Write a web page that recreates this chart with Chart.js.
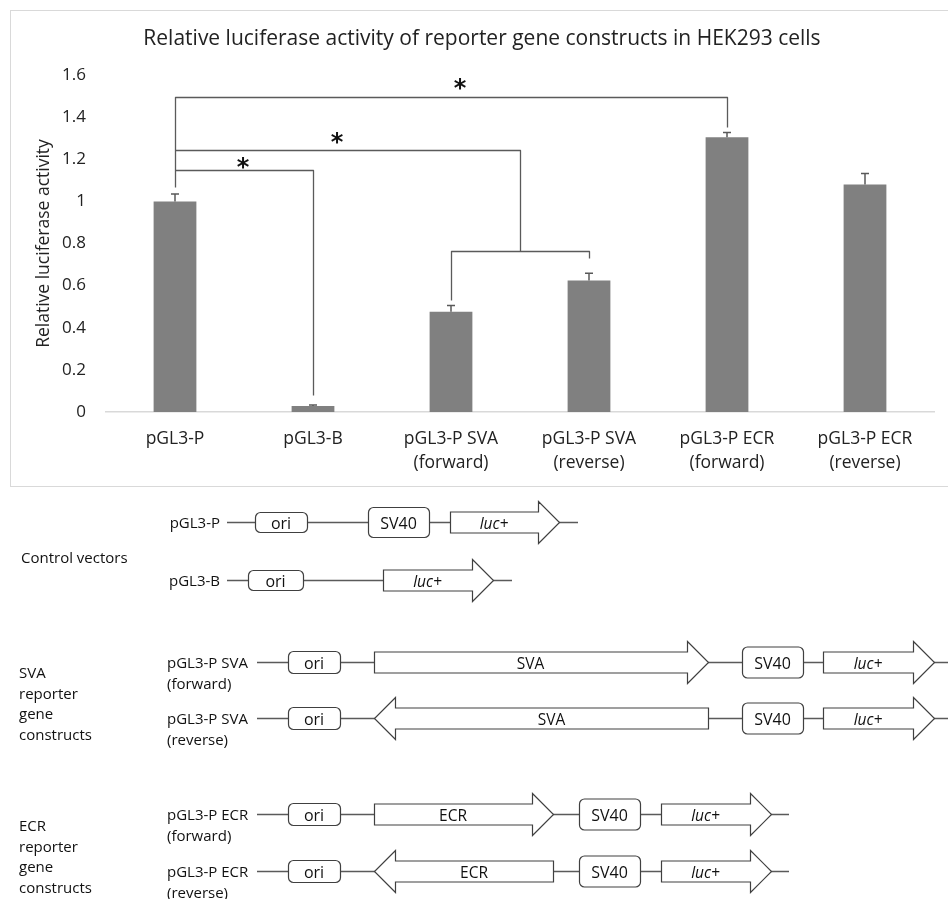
<!DOCTYPE html>
<html>
<head>
<meta charset="utf-8">
<script src="https://cdn.jsdelivr.net/npm/chart.js@4.4.1/dist/chart.umd.min.js"></script>
<style>
  html, body { margin: 0; padding: 0; background: #fff; }
  body { width: 948px; height: 899px; position: relative; overflow: hidden; font-family: "Open Sans", sans-serif; }
  #frame { position: absolute; left: 10px; top: 10px; width: 940px; height: 475px; border: 1px solid #d9d9d9; }
  #box { position: relative; width: 937px; height: 475px; }
  #diagram { position: absolute; left: 0; top: 0; }
</style>
</head>
<body>
<div id="frame"><div id="box"><canvas id="resultChart"></canvas></div></div>
<svg id="diagram" width="948" height="899" xmlns="http://www.w3.org/2000/svg"></svg>
<script>
// chart values
const categories = [["pGL3-P"], ["pGL3-B"], ["pGL3-P SVA", "(forward)"], ["pGL3-P SVA", "(reverse)"],
                    ["pGL3-P ECR", "(forward)"], ["pGL3-P ECR", "(reverse)"]];
const activity = [1.0, 0.029, 0.476, 0.624, 1.305, 1.08];
const errors = [0.035, 0.004, 0.03, 0.035, 0.022, 0.052];
const yMin = 0, yMax = 1.6, yStep = 0.2;

// significance brackets, [category index, value] points
const brackets = [
    [[0, 1.07], [0, 1.495], [4, 1.495], [4, 1.352]],
    [[0, 1.243], [2.5, 1.243], [2.5, 0.766]],
    [[0, 1.148], [1, 1.148], [1, 0.081]],
    [[2, 0.533], [2, 0.766], [3, 0.766], [3, 0.733]]
];
const stars = [[2.065, 1.562], [1.174, 1.306], [0.493, 1.187]];

const extras = {
    id: 'extras',
    afterDatasetsDraw(chart) {
        const ctx = chart.ctx;
        const x = chart.scales.x, y = chart.scales.y;
        ctx.save();
        // error bars (plus side only)
        ctx.strokeStyle = '#595959';
        ctx.lineWidth = 1.5;
        activity.forEach((v, i) => {
            const px = x.getPixelForValue(i);
            const top = y.getPixelForValue(v + errors[i]);
            ctx.beginPath();
            ctx.moveTo(px, y.getPixelForValue(v));
            ctx.lineTo(px, top);
            ctx.moveTo(px - 4, top);
            ctx.lineTo(px + 4, top);
            ctx.stroke();
        });
        // brackets
        ctx.strokeStyle = '#5a5a5a';
        ctx.lineWidth = 1.3;
        ctx.lineJoin = 'round';
        brackets.forEach(pts => {
            ctx.beginPath();
            pts.forEach((p, k) => {
                const px = Math.round(x.getPixelForValue(p[0])) + 0.5;
                const py = Math.round(y.getPixelForValue(p[1])) + 0.5;
                if (k === 0) ctx.moveTo(px, py); else ctx.lineTo(px, py);
            });
            ctx.stroke();
        });
        ctx.fillStyle = '#111';
        ctx.font = 'bold 24px "DejaVu Sans"';
        ctx.textAlign = 'center';
        ctx.textBaseline = 'alphabetic';
        stars.forEach(s => {
            ctx.fillText('*', x.getPixelForValue(s[0]), y.getPixelForValue(s[1]) + 13);
        });
        ctx.restore();
    }
};

const ctx = document.getElementById("resultChart").getContext("2d");
const chart = new Chart(ctx, {
    type: 'bar',
    data: {
        labels: categories,
        datasets: [{
            data: activity,
            backgroundColor: '#808080',
            borderWidth: 0,
            barPercentage: 0.31,
            categoryPercentage: 1
        }]
    },
    options: {
        responsive: true,
        maintainAspectRatio: false,
        animation: false,
        layout: { padding: { left: 19, right: 14, top: 0, bottom: 0 } },
        plugins: {
            legend: { display: false },
            tooltip: { enabled: false },
            title: {
                display: true,
                text: 'Relative luciferase activity of reporter gene constructs in HEK293 cells',
                color: '#222',
                font: { family: 'Open Sans', size: 21, weight: 'normal', lineHeight: 1.2 },
                padding: { top: 15, bottom: 23.8 }
            }
        },
        scales: {
            x: {
                grid: { display: false, drawTicks: false },
                border: { display: true, color: '#d9d9d9', width: 1.5 },
                ticks: { color: '#222', font: { family: 'Open Sans', size: 17.5, lineHeight: 1.36 }, padding: 15, maxRotation: 0, autoSkip: false },
                afterFit(scale) { scale.height = 74; }
            },
            y: {
                min: yMin, max: yMax,
                grid: { display: false, drawTicks: false },
                border: { display: false },
                ticks: {
                    stepSize: yStep, color: '#222', font: { family: 'Open Sans', size: 17 }, padding: 20,
                    callback: v => String(Math.round(v * 10) / 10)
                },
                title: {
                    display: true, text: 'Relative luciferase activity', color: '#222',
                    font: { family: 'Open Sans', size: 17.5 }, padding: { top: 4, bottom: 0 }
                },
                afterFit(scale) { scale.width = 76; }
            }
        }
    },
    plugins: [extras]
});

// construct diagram
const svg = document.getElementById('diagram');
const NS = 'http://www.w3.org/2000/svg';
function el(tag, attrs, txt) {
    const e = document.createElementNS(NS, tag);
    for (const k in attrs) e.setAttribute(k, attrs[k]);
    if (txt !== undefined) e.textContent = txt;
    svg.appendChild(e);
    return e;
}
function text(x, y, s, opts) {
    const o = Object.assign({ x: x, y: y, 'font-family': 'Open Sans', 'font-size': 15, fill: '#111', 'dominant-baseline': 'central' }, opts || {});
    return el('text', o, s);
}
function line(x1, x2, y) {
    el('line', { x1: x1, x2: x2, y1: y + 0.5, y2: y + 0.5, stroke: '#5a5a5a', 'stroke-width': 1.3 });
}
function box(x1, x2, y, h, label) {
    el('rect', { x: x1 + 0.5, y: y - h / 2 + 0.5, width: x2 - x1, height: h, rx: 5, fill: '#fff', stroke: '#404040', 'stroke-width': 1.2 });
    text((x1 + x2) / 2, y + 1, label, { 'text-anchor': 'middle', 'font-size': 16 });
}
function arrow(x1, x2, y, label, reverse, italic) {
    const bh = 21, hh = 42, hl = 21;
    let pts;
    if (!reverse) {
        const hs = x2 - hl;
        pts = [[x1, y - bh / 2], [hs, y - bh / 2], [hs, y - hh / 2], [x2, y], [hs, y + hh / 2], [hs, y + bh / 2], [x1, y + bh / 2]];
    } else {
        const hs = x1 + hl;
        pts = [[x2, y - bh / 2], [hs, y - bh / 2], [hs, y - hh / 2], [x1, y], [hs, y + hh / 2], [hs, y + bh / 2], [x2, y + bh / 2]];
    }
    el('polygon', { points: pts.map(p => (p[0] + 0.5) + ',' + (p[1] + 0.5)).join(' '), fill: '#fff', stroke: '#404040', 'stroke-width': 1.2 });
    const cx = reverse ? (x1 + hl + x2) / 2 : (x1 + x2 - hl) / 2;
    text(cx, y + 1, label, { 'text-anchor': 'middle', 'font-size': 15.5, 'font-style': italic ? 'italic' : 'normal' });
}

// left group labels
text(21, 557, 'Control vectors');
['SVA', 'reporter', 'gene', 'constructs'].forEach((s, i) => text(19, 672 + i * 20.7, s));
['ECR', 'reporter', 'gene', 'constructs'].forEach((s, i) => text(19, 825 + i * 20.7, s));

// pGL3-P
text(220, 522, 'pGL3-P', { 'text-anchor': 'end' });
line(227, 578, 522);
box(255, 307, 522, 20, 'ori');
box(368, 429, 522, 30, 'SV40');
arrow(450, 559, 522, 'luc+', false, true);

// pGL3-B
text(220, 580, 'pGL3-B', { 'text-anchor': 'end' });
line(227, 512, 580);
box(248, 303, 580, 20, 'ori');
arrow(383, 493, 580, 'luc+', false, true);

// SVA constructs
[[662, false, '(forward)'], [718, true, '(reverse)']].forEach(r => {
    const y = r[0];
    text(167, y, 'pGL3-P SVA');
    text(167, y + 21, r[2]);
    line(257, 948, y);
    box(288, 340, y, 22, 'ori');
    arrow(374, 708, y, 'SVA', r[1], false);
    box(742, 803, y, 31, 'SV40');
    arrow(823, 934, y, 'luc+', false, true);
});

// ECR constructs
[[814, false, '(forward)'], [871, true, '(reverse)']].forEach(r => {
    const y = r[0];
    text(167, y, 'pGL3-P ECR');
    text(167, y + 21, r[2]);
    line(257, 789, y);
    box(288, 340, y, 22, 'ori');
    arrow(374, 553, y, 'ECR', r[1], false);
    box(579, 640, y, 31, 'SV40');
    arrow(661, 771, y, 'luc+', false, true);
});
</script>
</body>
</html>
